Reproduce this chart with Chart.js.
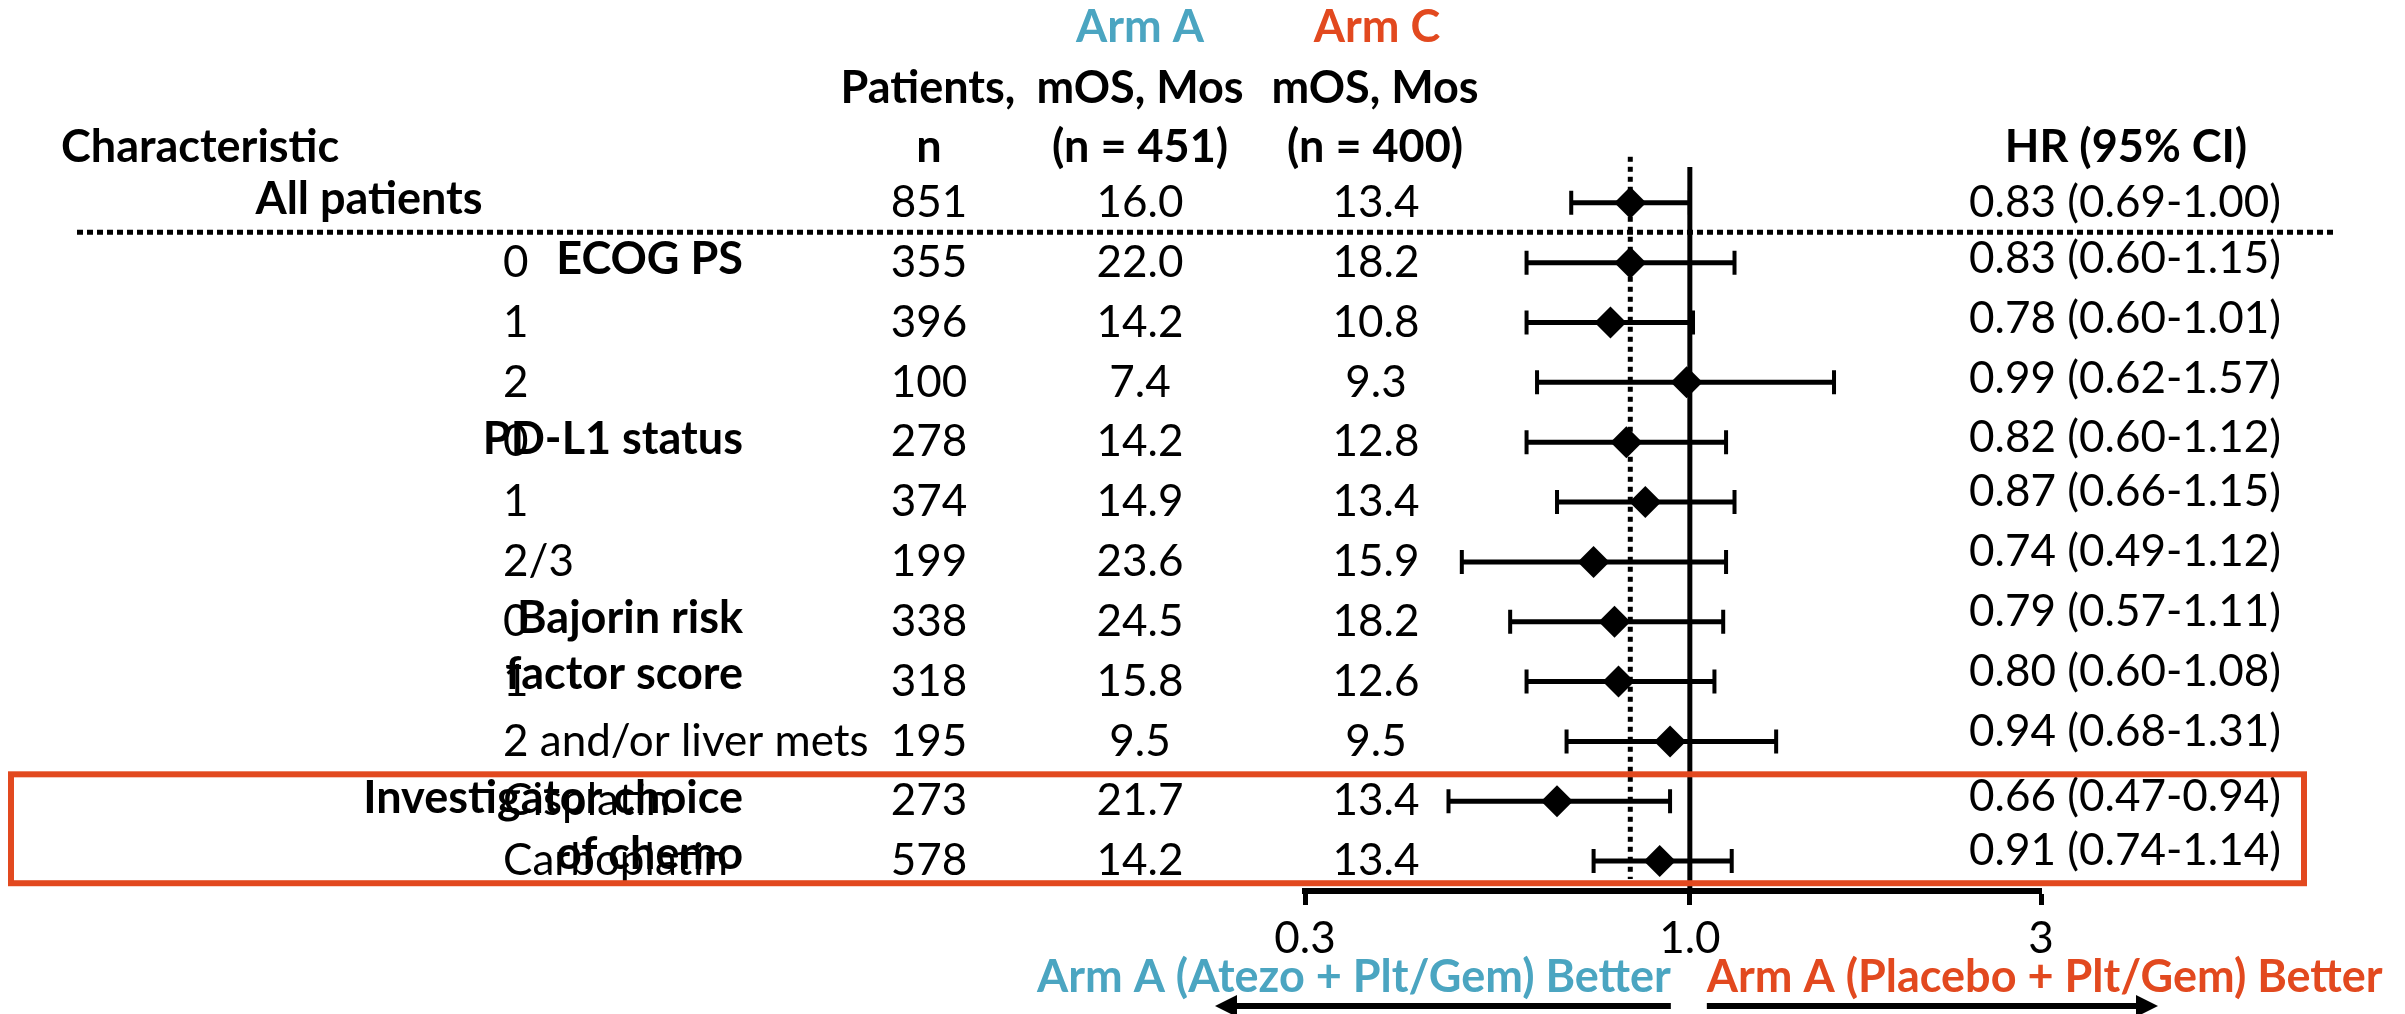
<!DOCTYPE html>
<html>
<head>
<meta charset="utf-8">
<title>Overall survival by subgroup</title>
<script src="https://cdn.jsdelivr.net/npm/chart.js@4.4.1/dist/chart.umd.min.js"></script>
<style>
  html, body { margin: 0; padding: 0; background: #fff; overflow: hidden; }
  canvas { display: block; }
</style>
</head>
<body>
<canvas id="forest" width="2405" height="1014"></canvas>
<script>
// one entry per row, top to bottom (row 0 = all patients)
const subgroups = ['All patients', '0', '1', '2', '0', '1', '2/3', '0', '1', '2 and/or liver mets', 'Cisplatin', 'Carboplatin'];
const patients = [851, 355, 396, 100, 278, 374, 199, 338, 318, 195, 273, 578];
const armAmos = [16.0, 22.0, 14.2, 7.4, 14.2, 14.9, 23.6, 24.5, 15.8, 9.5, 21.7, 14.2];
const armCmos = [13.4, 18.2, 10.8, 9.3, 12.8, 13.4, 15.9, 18.2, 12.6, 9.5, 13.4, 13.4];
const hr = [0.83, 0.83, 0.78, 0.99, 0.82, 0.87, 0.74, 0.79, 0.80, 0.94, 0.66, 0.91];
const ciLow = [0.69, 0.60, 0.60, 0.62, 0.60, 0.66, 0.49, 0.57, 0.60, 0.68, 0.47, 0.74];
const ciHigh = [1.00, 1.15, 1.01, 1.57, 1.12, 1.15, 1.12, 1.11, 1.08, 1.31, 0.94, 1.14];

// bold group captions, placed on the first row of each group
const groupRows = [1, 4, 7, 10];
const groupLabels = [['ECOG PS'], ['PD-L1 status'], ['Bajorin risk', 'factor score'], ['Investigator choice', 'of chemo']];

const xTicks = [0.3, 1.0, 3];
const xTickLabels = ['0.3', '1.0', '3'];
const nullHr = 1.0;
const overallHr = hr[0];

const TEAL = '#4ba5c1';
const ORANGE = '#e2491f';
const FONT = 'Lato, "Open Sans", sans-serif';

function text(ctx, str, x, y, align, font, color) {
  ctx.font = font;
  ctx.fillStyle = color || '#000';
  ctx.textAlign = align;
  ctx.textBaseline = 'middle';
  ctx.fillText(str, x, y);
}

function arrow(ctx, xFrom, xTo, y) {
  const dir = Math.sign(xTo - xFrom);
  ctx.lineWidth = 6;
  ctx.beginPath();
  ctx.moveTo(xFrom, y);
  ctx.lineTo(xTo - dir * 14, y);
  ctx.stroke();
  ctx.beginPath();
  ctx.moveTo(xTo, y);
  ctx.lineTo(xTo - dir * 22, y - 11);
  ctx.lineTo(xTo - dir * 22, y + 11);
  ctx.closePath();
  ctx.fill();
}

const forestPlugin = {
  id: 'forest',
  beforeDatasetsDraw(chart) {
    const { ctx, scales: { x, y } } = chart;
    ctx.save();
    ctx.strokeStyle = '#000';

    // line of no effect
    const x1 = x.getPixelForValue(nullHr);
    ctx.lineWidth = 5;
    ctx.beginPath();
    ctx.moveTo(x1, y.getPixelForValue(-0.6));
    ctx.lineTo(x1, y.bottom);
    ctx.stroke();

    // overall HR, dotted
    const xo = x.getPixelForValue(overallHr);
    ctx.setLineDash([5, 5]);
    ctx.beginPath();
    ctx.moveTo(xo, y.getPixelForValue(-0.77));
    ctx.lineTo(xo, y.getPixelForValue(11.3));
    ctx.stroke();
    ctx.setLineDash([]);

    // confidence intervals with end caps
    hr.forEach((_, i) => {
      const py = y.getPixelForValue(i);
      const a = x.getPixelForValue(ciLow[i]);
      const b = x.getPixelForValue(ciHigh[i]);
      ctx.lineWidth = 5;
      ctx.beginPath();
      ctx.moveTo(a, py);
      ctx.lineTo(b, py);
      ctx.stroke();
      ctx.lineWidth = 4;
      ctx.beginPath();
      ctx.moveTo(a, py - 12); ctx.lineTo(a, py + 12);
      ctx.moveTo(b, py - 12); ctx.lineTo(b, py + 12);
      ctx.stroke();
    });
    ctx.restore();
  },
  afterDraw(chart) {
    const { ctx, scales: { x, y } } = chart;
    const reg = '44px ' + FONT;
    const bold = 'bold 45px ' + FONT;
    ctx.save();

    // column headers
    text(ctx, 'Arm A', 1140, 27, 'center', bold, TEAL);
    text(ctx, 'Arm C', 1377, 27, 'center', bold, ORANGE);
    text(ctx, 'Patients,', 928, 88, 'center', bold);
    text(ctx, 'mOS, Mos', 1140, 88, 'center', bold);
    text(ctx, 'mOS, Mos', 1375, 88, 'center', bold);
    text(ctx, 'Characteristic', 61, 147, 'left', bold);
    text(ctx, 'n', 929, 147, 'center', bold);
    text(ctx, '(n = 451)', 1140, 147, 'center', bold);
    text(ctx, '(n = 400)', 1375, 147, 'center', bold);
    text(ctx, 'HR (95% CI)', 2126, 147, 'center', bold);

    // table body
    subgroups.forEach((label, i) => {
      const py = y.getPixelForValue(i);
      if (i === 0) {
        text(ctx, label, 369, py - 3, 'center', bold);
      } else {
        text(ctx, label, 503, py, 'left', reg);
      }
      text(ctx, String(patients[i]), 929, py, 'center', reg);
      text(ctx, armAmos[i].toFixed(1), 1140, py, 'center', reg);
      text(ctx, armCmos[i].toFixed(1), 1376, py, 'center', reg);
      // the HR column sits slightly higher than the rows it belongs to
      const hrText = hr[i].toFixed(2) + ' (' + ciLow[i].toFixed(2) + '-' + ciHigh[i].toFixed(2) + ')';
      const lift = i === 0 ? 0 : (i <= 4 || i === 10 ? 4 : 10);
      text(ctx, hrText, 2281, py - lift, 'right', reg);
    });

    groupRows.forEach((row, g) => {
      groupLabels[g].forEach((line, k) => {
        const py = y.getPixelForValue(row + k) - 3 - k * 4;
        text(ctx, line, 743, py, 'right', bold);
      });
    });

    // separator under the overall row
    ctx.strokeStyle = '#000';
    ctx.lineWidth = 5;
    ctx.setLineDash([6, 4]);
    ctx.beginPath();
    ctx.moveTo(77, y.getPixelForValue(0.49));
    ctx.lineTo(2333, y.getPixelForValue(0.49));
    ctx.stroke();
    ctx.setLineDash([]);

    // highlight around the chemo rows
    const boxTop = y.getPixelForValue(9.55);
    const boxBottom = y.getPixelForValue(11.37);
    ctx.strokeStyle = ORANGE;
    ctx.lineWidth = 6;
    ctx.strokeRect(11, boxTop, 2304 - 11, boxBottom - boxTop);

    // direction captions and arrows
    const x1 = x.getPixelForValue(nullHr);
    text(ctx, 'Arm A (Atezo + Plt/Gem) Better', x1 - 19, 977, 'right', bold, TEAL);
    text(ctx, 'Arm A (Placebo + Plt/Gem) Better', x1 + 17, 977, 'left', bold, ORANGE);
    ctx.strokeStyle = '#000';
    ctx.fillStyle = '#000';
    arrow(ctx, x1 - 19, 1215, 1006);
    arrow(ctx, x1 + 17, 2158, 1006);
    ctx.restore();
  }
};

new Chart(document.getElementById('forest'), {
  type: 'scatter',
  data: {
    datasets: [{
      data: hr.map((v, i) => ({ x: v, y: i })),
      pointStyle: 'rectRot',
      pointRadius: 16,
      backgroundColor: '#000',
      borderWidth: 0
    }]
  },
  options: {
    responsive: false,
    devicePixelRatio: 1,
    animation: false,
    events: [],
    layout: { padding: { left: 1305, right: 364, top: 149, bottom: 0 } },
    plugins: { legend: { display: false }, tooltip: { enabled: false } },
    scales: {
      x: {
        type: 'logarithmic',
        min: 0.3,
        max: 3,
        afterBuildTicks: s => { s.ticks = xTicks.map(v => ({ value: v })); },
        afterFit: s => { s.height = 123; },
        border: { display: true, color: '#000', width: 6 },
        grid: { display: true, drawOnChartArea: false, drawTicks: true, tickLength: 14, tickWidth: 5, tickColor: '#000' },
        ticks: {
          autoSkip: false,
          maxRotation: 0,
          padding: 7,
          color: '#000',
          font: { family: FONT, size: 44, lineHeight: 1.2 },
          callback: (v, i) => xTickLabels[i]
        }
      },
      y: {
        type: 'linear',
        reverse: true,
        min: -0.9,
        max: 11.5,
        display: false
      }
    }
  },
  plugins: [forestPlugin]
});
</script>
</body>
</html>
